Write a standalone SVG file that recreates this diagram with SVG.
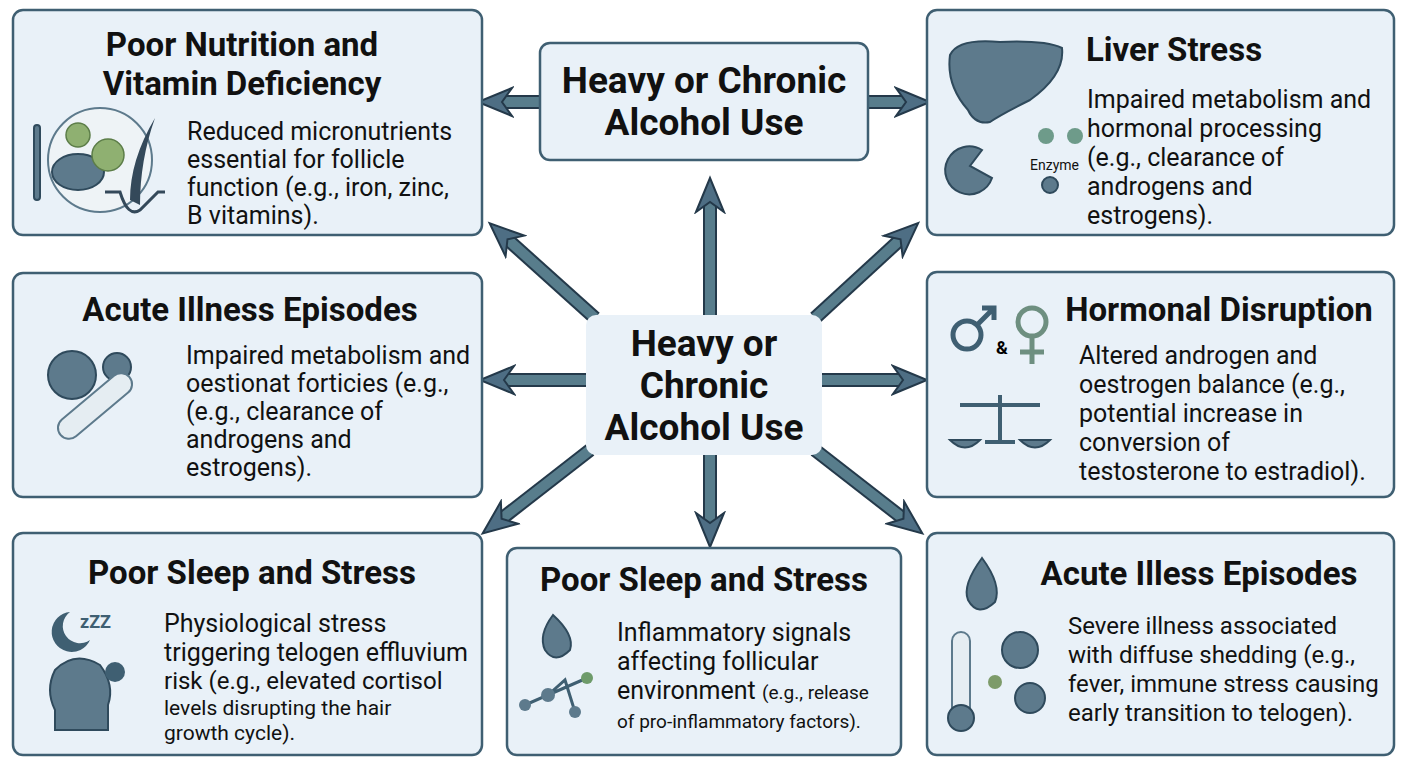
<svg xmlns="http://www.w3.org/2000/svg" width="1408" height="768" viewBox="0 0 1408 768">
<style>
.box{fill:#e9f1f8;stroke:#3f5f72;stroke-width:2.5}
.t{font-family:Roboto,"Liberation Sans",sans-serif;font-weight:bold;font-size:33px;fill:#111;text-anchor:middle}
.b{font-family:Roboto,"Liberation Sans",sans-serif;font-size:25px;fill:#111}
.c{font-family:Roboto,"Liberation Sans",sans-serif;font-weight:bold;font-size:37px;fill:#111;text-anchor:middle}
.sh{stroke:#24394a;stroke-width:14}
.sf{stroke:#587d8c;stroke-width:10}
.ic{fill:#5d7a8c;stroke:#2f4a5c;stroke-width:2}
.gr{fill:#8fb071;stroke:#5c7d48;stroke-width:1.5}
</style>
<defs>
<marker id="ah" markerUnits="userSpaceOnUse" markerWidth="40" markerHeight="40" refX="14" refY="20" orient="auto">
<polygon points="2,6 36,20 2,34 12,20" fill="#4e6e84" stroke="#24394a" stroke-width="2"/>
</marker>
</defs>
<rect width="1408" height="768" fill="#fff"/>
<g id="connectors">
<g class="sh" fill="none">
<line x1="540" y1="102" x2="500" y2="102"/><line x1="868" y1="102" x2="908" y2="102"/>
<line x1="710" y1="315" x2="710" y2="200"/><line x1="710" y1="455" x2="710" y2="525"/>
<line x1="586" y1="380" x2="502" y2="380"/><line x1="822" y1="380" x2="905" y2="380"/>
<line x1="595" y1="318" x2="506" y2="238"/><line x1="815" y1="318" x2="902" y2="238"/>
<line x1="590" y1="450" x2="500" y2="520"/><line x1="815" y1="450" x2="905" y2="520"/>
</g>
<g class="sf" fill="none" marker-end="url(#ah)">
<line x1="540" y1="102" x2="500" y2="102"/><line x1="868" y1="102" x2="908" y2="102"/>
<line x1="710" y1="315" x2="710" y2="200"/><line x1="710" y1="455" x2="710" y2="525"/>
<line x1="586" y1="380" x2="502" y2="380"/><line x1="822" y1="380" x2="905" y2="380"/>
<line x1="595" y1="318" x2="506" y2="238"/><line x1="815" y1="318" x2="902" y2="238"/>
<line x1="590" y1="450" x2="500" y2="520"/><line x1="815" y1="450" x2="905" y2="520"/>
</g>
</g>
<g id="center">
<rect x="586" y="315" width="236" height="140" rx="10" fill="#e9f1f8"/>
<text class="c" x="704" y="356">Heavy or</text>
<text class="c" x="704" y="398">Chronic</text>
<text class="c" x="704" y="440">Alcohol Use</text>
</g>
<g id="top">
<rect class="box" x="540" y="43" width="328" height="117" rx="10"/>
<text class="c" x="704" y="93">Heavy or Chronic</text>
<text class="c" x="704" y="135">Alcohol Use</text>
</g>
<g id="nutrition">
<rect class="box" x="13" y="10" width="469" height="225" rx="10"/>
<text class="t" x="242" y="56">Poor Nutrition and</text>
<text class="t" x="242" y="95">Vitamin Deficiency</text>
<rect x="34" y="125" width="6" height="75" rx="3" class="ic"/>
<circle cx="100" cy="160" r="52" fill="#eef3f6" stroke="#5d7a8c" stroke-width="2"/>
<ellipse cx="78" cy="172" rx="26" ry="18" class="ic"/>
<circle cx="108" cy="155" r="16" class="gr"/><circle cx="78" cy="135" r="12" class="gr"/>
<path d="M155 118 Q130 160 130 200 L140 205 Q140 160 155 118Z" fill="#34495a"/>
<path d="M105 192 L120 192 Q128 218 140 210 Q150 200 158 192 L165 192" fill="none" stroke="#34495a" stroke-width="3"/>
<text class="b" x="187" y="140">Reduced micronutrients</text>
<text class="b" x="187" y="168">essential for follicle</text>
<text class="b" x="187" y="196">function (e.g., iron, zinc,</text>
<text class="b" x="187" y="224">B vitamins).</text>
</g>
<g id="liver">
<rect class="box" x="927" y="10" width="467" height="225" rx="10"/>
<path d="M950 55 Q958 38 1000 42 Q1045 40 1062 48 Q1065 75 1030 100 Q1000 115 990 122 Q975 125 968 110 Q946 85 950 55Z" class="ic"/>
<path d="M982 150 A24 24 0 1 0 992 178 L970 166Z" class="ic"/>
<circle cx="1075" cy="136" r="8" fill="#6e9b8a"/><circle cx="1046" cy="136" r="8" fill="#6e9b8a"/><circle cx="1050" cy="185" r="8" class="ic"/>
<text x="1030" y="170" font-family="Roboto,'Liberation Sans',sans-serif" font-size="14" fill="#111">Enzyme</text>
<text class="t" x="1174" y="61">Liver Stress</text>
<text class="b" x="1087" y="108">Impaired metabolism and</text>
<text class="b" x="1087" y="137">hormonal processing</text>
<text class="b" x="1087" y="166">(e.g., clearance of</text>
<text class="b" x="1087" y="195">androgens and</text>
<text class="b" x="1087" y="224">estrogens).</text>
</g>
<g id="acute">
<rect class="box" x="13" y="273" width="469" height="224" rx="10"/>
<text class="t" x="250" y="321">Acute Illness Episodes</text>
<circle cx="72" cy="375" r="24" class="ic"/><circle cx="117" cy="367" r="14" class="ic"/>
<rect x="50" y="395" width="90" height="22" rx="11" transform="rotate(-40 95 406)" fill="#e5edf2" stroke="#5d7a8c" stroke-width="2"/>
<text class="b" x="186" y="364">Impaired metabolism and</text>
<text class="b" x="186" y="392">oestionat forticies (e.g.,</text>
<text class="b" x="186" y="420">(e.g., clearance of</text>
<text class="b" x="186" y="448">androgens and</text>
<text class="b" x="186" y="476">estrogens).</text>
</g>
<g id="hormonal">
<rect class="box" x="927" y="272" width="467" height="225" rx="10"/>
<circle cx="967" cy="335" r="14" fill="none" stroke="#3f5f72" stroke-width="5"/>
<path d="M977 325 L993 309 M982 308 L994 308 L994 320" fill="none" stroke="#3f5f72" stroke-width="5"/>
<text x="996" y="354" font-family="Roboto,'Liberation Sans',sans-serif" font-size="18" font-weight="bold">&amp;</text>
<circle cx="1032" cy="322" r="14" fill="none" stroke="#6e8f80" stroke-width="5"/>
<path d="M1032 336 V364 M1020 352 H1044" stroke="#6e8f80" stroke-width="5"/>
<path d="M1000 395 V440 M960 405 H1040 M985 442 H1015" stroke="#3f5f72" stroke-width="4" fill="none"/>
<path d="M950 440 Q965 455 980 440Z M1020 440 Q1035 455 1050 440Z" class="ic"/>
<text class="t" x="1219" y="321">Hormonal Disruption</text>
<text class="b" x="1079" y="364">Altered androgen and</text>
<text class="b" x="1079" y="393">oestrogen balance (e.g.,</text>
<text class="b" x="1079" y="422">potential increase in</text>
<text class="b" x="1079" y="451">conversion of</text>
<text class="b" x="1079" y="480">testosterone to estradiol).</text>
</g>
<g id="sleep1">
<rect class="box" x="13" y="533" width="469" height="222" rx="10"/>
<text class="t" x="252" y="584">Poor Sleep and Stress</text>
<path d="M70 612 A20 20 0 1 0 90 640 A16 16 0 0 1 70 612Z" fill="#3f5f72"/>
<text x="80" y="628" font-family="Roboto,'Liberation Sans',sans-serif" font-size="18" font-weight="bold" fill="#3f5f72">zZZ</text>
<path d="M55 730 V710 Q45 690 55 670 Q75 650 100 665 Q115 685 108 705 L108 730Z" class="ic"/>
<circle cx="115" cy="672" r="10" fill="#3f5f72"/>
<text class="b" x="164" y="632">Physiological stress</text>
<text class="b" x="164" y="661">triggering telogen effluvium</text>
<text class="b" x="164" y="689" style="font-size:24px">risk (e.g., elevated cortisol</text>
<text class="b" x="164" y="715" style="font-size:21px">levels disrupting the hair</text>
<text class="b" x="164" y="740" style="font-size:21px">growth cycle).</text>
</g>
<g id="sleep2">
<rect class="box" x="507" y="548" width="394" height="207" rx="10"/>
<text class="t" x="704" y="591">Poor Sleep and Stress</text>
<path d="M553 615 Q538 635 545 650 Q555 665 570 650 Q575 635 553 615Z" class="ic"/>
<path d="M525 705 L548 695 L565 680 L575 712 M548 695 L587 678" stroke="#3f5f72" stroke-width="3" fill="none"/>
<circle cx="525" cy="705" r="6" fill="#5d7a8c"/><circle cx="548" cy="695" r="7" fill="#5d7a8c"/><circle cx="587" cy="678" r="6" fill="#6e9b6a"/><circle cx="575" cy="712" r="6" fill="#5d7a8c"/>
<text class="b" x="617" y="641">Inflammatory signals</text>
<text class="b" x="617" y="670">affecting follicular</text>
<text class="b" x="617" y="699">environment <tspan style="font-size:19px">(e.g., release</tspan></text>
<text class="b" x="617" y="728" style="font-size:19px">of pro-inflammatory factors).</text>
</g>
<g id="severe">
<rect class="box" x="927" y="533" width="467" height="222" rx="10"/>
<path d="M982 558 Q962 585 968 600 Q978 618 995 602 Q1002 585 982 558Z" class="ic"/>
<rect x="952" y="632" width="18" height="85" rx="9" fill="#e5edf2" stroke="#5d7a8c" stroke-width="2"/>
<circle cx="961" cy="718" r="13" class="ic"/>
<circle cx="1020" cy="650" r="18" class="ic"/><circle cx="995" cy="682" r="7" fill="#7d9b6a"/><circle cx="1030" cy="698" r="15" class="ic"/>
<text class="t" x="1199" y="585">Acute Illess Episodes</text>
<text class="b" x="1068" y="634" style="font-size:24px">Severe illness associated</text>
<text class="b" x="1068" y="663" style="font-size:24px">with diffuse shedding (e.g.,</text>
<text class="b" x="1068" y="692" style="font-size:24px">fever, immune stress causing</text>
<text class="b" x="1068" y="721" style="font-size:24px">early transition to telogen).</text>
</g>
</svg>
